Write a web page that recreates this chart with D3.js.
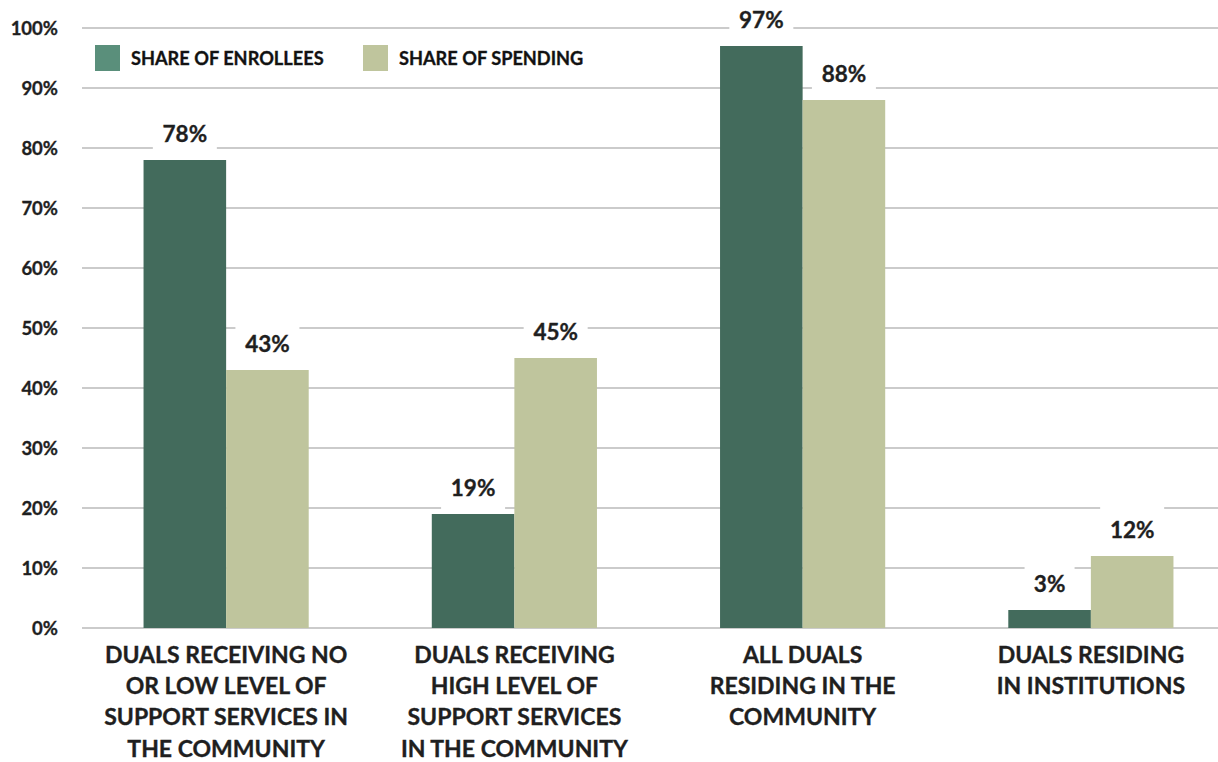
<!DOCTYPE html>
<html><head><meta charset="utf-8">
<script src="https://cdn.jsdelivr.net/npm/d3@7"></script>
<style>body{margin:0;background:#fff}svg{display:block;font-family:Lato,"Open Sans",sans-serif;font-weight:700}
text{stroke:#1f1f1f;stroke-width:0.35px}</style>
</head><body><svg id="c" width="1218" height="762"></svg>
<script>
const categories = [
  ["DUALS RECEIVING NO","OR LOW LEVEL OF","SUPPORT SERVICES IN","THE COMMUNITY"],
  ["DUALS RECEIVING","HIGH LEVEL OF","SUPPORT SERVICES","IN THE COMMUNITY"],
  ["ALL DUALS","RESIDING IN THE","COMMUNITY"],
  ["DUALS RESIDING","IN INSTITUTIONS"]
];
const seriesNames = ["SHARE OF ENROLLEES","SHARE OF SPENDING"];
const enrollees = [78, 19, 97, 3];
const spending = [43, 45, 88, 12];
const yTicks = [0,10,20,30,40,50,60,70,80,90,100];

const barColors = ["#436b5c","#bfc59d"];
const legendColors = ["#5a8f7b","#bfc59d"];
const svg = d3.select("#c");
const W = 1218;
const x = d3.scaleBand().domain(d3.range(categories.length)).range([82, 1235]).paddingInner(0.427).paddingOuter(0.2135);
const xs = d3.scaleBand().domain([0,1]).range([0, x.bandwidth()]);
const y = d3.scaleLinear().domain([0,100]).range([628, 28]);

// gridlines
svg.append("g").selectAll("line").data(yTicks).join("line")
  .attr("x1", 82).attr("x2", W).attr("y1", d=>y(d)).attr("y2", d=>y(d))
  .attr("stroke", "#cbcbcb").attr("stroke-width", 2);
// y labels
svg.append("g").selectAll("text").data(yTicks).join("text")
  .attr("x", 58).attr("y", d=>y(d)).attr("dy","0.36em").attr("text-anchor","end")
  .attr("font-size", 18.5).attr("fill","#1f1f1f").text(d=>d+"%");

const data = [];
categories.forEach((c,i)=>{ data.push({i, s:0, v:enrollees[i]}); data.push({i, s:1, v:spending[i]}); });

svg.append("g").selectAll("rect").data(data).join("rect")
  .attr("x", d=>x(d.i)+xs(d.s)).attr("width", xs.bandwidth())
  .attr("y", d=>y(d.v)).attr("height", d=>y(0)-y(d.v))
  .attr("fill", d=>barColors[d.s]);

// labels with white boxes
const lab = svg.append("g").selectAll("g").data(data).join("g")
  .attr("transform", d=>`translate(${x(d.i)+xs(d.s)+xs.bandwidth()/2},${y(d.v)-26})`);
lab.append("rect").attr("x", d=> d.v<10 ? -25 : -32).attr("width", d=> d.v<10 ? 50 : 64)
  .attr("y",-23).attr("height",46).attr("fill","#fff");
lab.append("text").attr("text-anchor","middle").attr("dy","0.36em").attr("font-size",22.5)
  .attr("fill","#1f1f1f").text(d=>d.v+"%");

// x labels
const xl = svg.append("g").selectAll("text").data(categories.map((c,i)=>({c,i}))).join("text")
  .attr("text-anchor","middle").attr("font-size",23).attr("fill","#1f1f1f")
  .attr("transform", d=>`translate(${x(d.i)+x.bandwidth()/2},663)`);
xl.selectAll("tspan").data(d=>d.c).join("tspan").attr("x",0).attr("dy",(d,k)=>k?31.2:0).text(d=>d);

// legend
const lg = svg.append("g").selectAll("g").data(seriesNames).join("g")
  .attr("transform",(d,i)=>`translate(${i?363:95},45)`);
lg.append("rect").attr("width",25).attr("height",26).attr("fill",(d,i)=>legendColors[i]);
lg.append("text").attr("x",36).attr("y",13).attr("dy","0.36em").attr("font-size",18.2).attr("fill","#111").text(d=>d);
</script></body></html>
